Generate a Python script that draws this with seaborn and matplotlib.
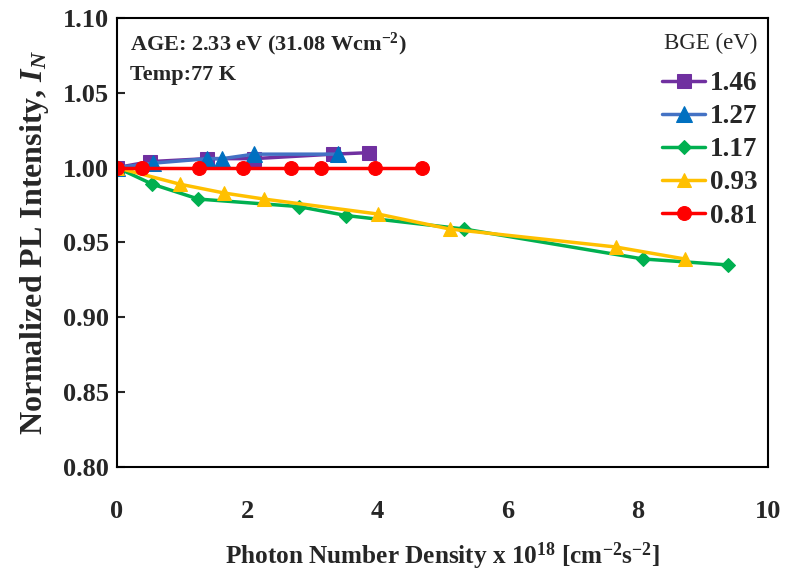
import numpy as np
import pandas as pd
import matplotlib
matplotlib.use("Agg")
import matplotlib.pyplot as plt
import seaborn as sns

# ---- data ----
bge_labels = ["1.46", "1.27", "1.17", "0.93", "0.81"]

x_146 = [0.0, 0.50, 1.38, 2.10, 3.32, 3.87]
y_146 = [1.000, 1.004, 1.006, 1.006, 1.009, 1.010]

x_127 = [0.0, 0.56, 1.39, 1.62, 2.10, 3.40]
y_127 = [1.000, 1.003, 1.006, 1.006, 1.009, 1.009]

x_117 = [0.0, 0.54, 1.25, 2.79, 3.52, 5.33, 8.08, 9.39]
y_117 = [1.000, 0.989, 0.979, 0.974, 0.968, 0.959, 0.939, 0.935]

x_093 = [0.0, 0.96, 1.65, 2.26, 4.01, 5.11, 7.66, 8.72]
y_093 = [1.000, 0.989, 0.983, 0.979, 0.969, 0.959, 0.947, 0.939]

x_081 = [0.0, 0.39, 1.26, 1.93, 2.67, 3.13, 3.97, 4.69]
y_081 = [1.000, 1.000, 1.000, 1.000, 1.000, 1.000, 1.000, 1.000]

x_ticks = [0, 2, 4, 6, 8, 10]
y_ticks = [0.80, 0.85, 0.90, 0.95, 1.00, 1.05, 1.10]

series_x = [x_146, x_127, x_117, x_093, x_081]
series_y = [y_146, y_127, y_117, y_093, y_081]

rows = []
for lab, xs, ys in zip(bge_labels, series_x, series_y):
    for xv, yv in zip(xs, ys):
        rows.append({"x": xv, "y": yv, "BGE": lab})
df = pd.DataFrame(rows)

# ---- style ----
sns.set_style("ticks")
plt.rcParams["font.family"] = ["Liberation Serif", "DejaVu Serif"]
plt.rcParams["mathtext.fontset"] = "custom"
plt.rcParams["mathtext.rm"] = "Liberation Serif:bold"
plt.rcParams["mathtext.it"] = "Liberation Serif:italic:bold"
plt.rcParams["mathtext.bf"] = "Liberation Serif:bold"

line_colors = {"1.46": "#7030A0", "1.27": "#4472C4", "1.17": "#00B050",
               "0.93": "#FFC000", "0.81": "#FF0000"}
marker_colors = {"1.46": "#7030A0", "1.27": "#0070C0", "1.17": "#00B050",
                 "0.93": "#FFC000", "0.81": "#FF0000"}
markers = {"1.46": "s", "1.27": "^", "1.17": "D", "0.93": "^", "0.81": "o"}
msizes = {"1.46": 10, "1.27": 11, "1.17": 7.5, "0.93": 9.5, "0.81": 10}

fig = plt.figure(figsize=(7.86, 5.75), dpi=100)
ax = fig.add_axes([0.1489, 0.1878, 0.828, 0.781])

for lab in bge_labels:
    sub = df[df["BGE"] == lab]
    sns.lineplot(data=sub, x="x", y="y", ax=ax, color=line_colors[lab],
                 marker=markers[lab], markersize=msizes[lab],
                 markerfacecolor=marker_colors[lab],
                 markeredgecolor=marker_colors[lab],
                 linewidth=2.5, label=lab, sort=False, estimator=None)

ax.set_xlim(0, 10)
ax.set_ylim(0.80, 1.10)
ax.set_xticks(x_ticks)
ax.set_yticks(y_ticks)
ax.set_xticklabels([str(v) for v in x_ticks])
ax.set_yticklabels([f"{v:.2f}" for v in y_ticks])
for lbl in ax.get_xticklabels() + ax.get_yticklabels():
    lbl.set_fontweight("bold")
    lbl.set_fontsize(19)
ax.tick_params(axis="y", direction="in", length=6, width=1.5, pad=6)
ax.tick_params(axis="x", length=0, pad=24)
for sp in ax.spines.values():
    sp.set_visible(True)
    sp.set_color("black")
    sp.set_linewidth(1.5)

ax.set_xlabel("Photon Number Density x 10$^{18}$ [cm$^{-2}$s$^{-2}$]",
              fontsize=18.2, fontweight="bold", labelpad=12)
ax.set_ylabel("Normalized PL Intensity, $I_N$", fontsize=23,
              fontweight="bold", labelpad=8)

ax.text(0.02, 0.972, "AGE: 2.33 eV (31.08 Wcm$^{-2}$)", transform=ax.transAxes,
        fontsize=16, fontweight="bold", va="top", ha="left")
ax.text(0.02, 0.896, "Temp:77 K", transform=ax.transAxes,
        fontsize=16, fontweight="bold", va="top", ha="left")

leg = ax.legend(title="BGE (eV)", loc="upper right", frameon=False,
                fontsize=19.5, title_fontsize=16.5, handlelength=1.6,
                handletextpad=0.15, labelspacing=0.3,
                bbox_to_anchor=(1.0, 0.99), borderaxespad=0.0,
                alignment="right")
for t in leg.get_texts():
    t.set_fontweight("bold")
try:
    leg._legend_box.sep = 12
except Exception:
    pass

fig.savefig("out.png", dpi=100)
